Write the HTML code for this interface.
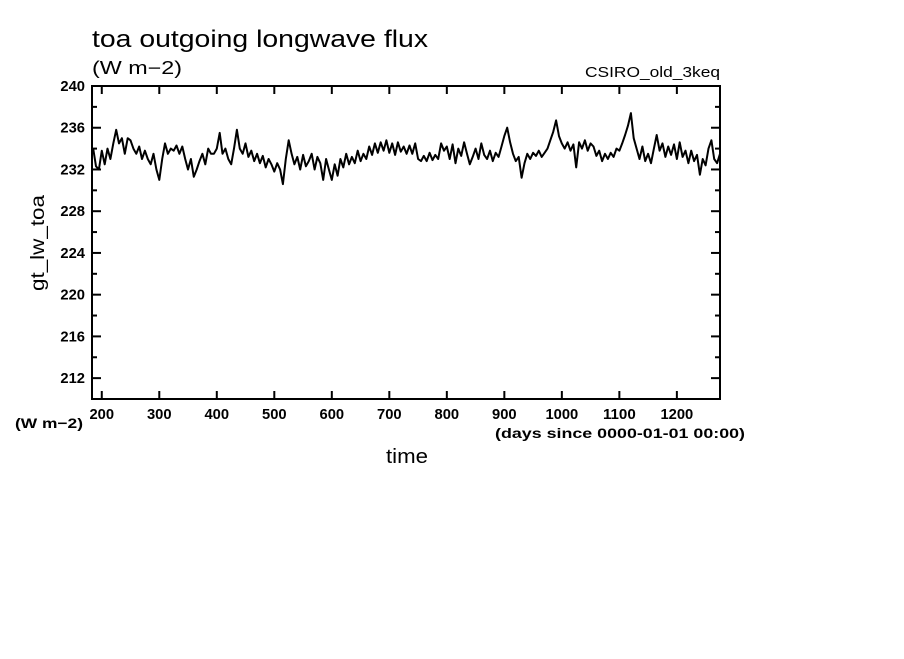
<!DOCTYPE html>
<html><head><meta charset="utf-8"><style>
body{margin:0;background:#fff;width:904px;height:654px;overflow:hidden}
text{font-family:"Liberation Sans",sans-serif;fill:#000}
</style></head><body>
<svg id="chart" width="904" height="654" xmlns="http://www.w3.org/2000/svg">
<text x="92" y="47" font-size="24" textLength="336" lengthAdjust="spacingAndGlyphs">toa outgoing longwave flux</text>
<text x="92" y="74" font-size="18" textLength="90" lengthAdjust="spacingAndGlyphs">(W m−2)</text>
<text x="585" y="77" font-size="15" textLength="135" lengthAdjust="spacingAndGlyphs">CSIRO_old_3keq</text>
<text transform="translate(44,243) rotate(-90)" font-size="19" text-anchor="middle" textLength="96" lengthAdjust="spacingAndGlyphs">gt_lw_toa</text>
<text x="15" y="428" font-size="14" font-weight="bold" textLength="68" lengthAdjust="spacingAndGlyphs">(W m−2)</text>
<text x="495" y="438" font-size="14" font-weight="bold" textLength="250" lengthAdjust="spacingAndGlyphs">(days since 0000-01-01 00:00)</text>
<text x="386" y="463" font-size="20" textLength="42" lengthAdjust="spacingAndGlyphs">time</text>
<g id="axes"></g>
<path id="series" fill="none" stroke="#000" stroke-width="2" stroke-linejoin="round"/>
<rect x="92" y="86" width="628" height="313" fill="none" stroke="#000" stroke-width="2"/>
</svg>
<script>
const startDay = 185;
const stepDays = 5;
const fluxValues = [
234.0,232.3,232.0,233.8,232.5,234.0,233.0,234.5,235.8,234.5,
235.0,233.5,235.0,234.8,234.0,233.5,234.2,233.0,233.8,233.0,
232.5,233.5,232.0,231.0,233.0,234.5,233.5,234.0,233.8,234.3,
233.5,234.2,233.0,232.0,233.0,231.3,232.0,232.8,233.5,232.5,
234.0,233.5,233.5,234.0,235.5,233.5,234.0,233.0,232.5,234.0,
235.8,234.0,233.5,234.5,233.2,233.8,232.8,233.5,232.6,233.3,
232.2,233.0,232.5,231.8,232.6,232.0,230.6,233.0,234.8,233.5,
232.5,233.2,232.0,233.4,232.3,232.8,233.5,232.0,233.2,232.6,
231.0,233.0,232.0,231.0,232.5,231.4,233.0,232.2,233.5,232.5,
233.2,232.6,233.8,232.8,233.5,233.0,234.2,233.4,234.5,233.6,
234.6,233.8,234.8,233.6,234.5,233.4,234.6,233.7,234.2,233.5,
234.3,233.5,234.5,233.0,232.8,233.3,232.8,233.6,232.9,233.4,
233.0,234.5,233.8,234.2,233.0,234.4,232.6,234.0,233.3,234.6,
233.5,232.5,233.2,234.0,233.0,234.5,233.4,233.0,233.8,232.8,
233.6,233.2,234.2,235.2,236.0,234.6,233.5,232.8,233.2,231.2,
232.6,233.5,233.0,233.6,233.3,233.8,233.2,233.6,234.0,234.8,
235.6,236.7,235.2,234.5,234.0,234.6,233.8,234.4,232.2,234.6,
234.0,234.8,233.8,234.5,234.2,233.3,233.8,232.8,233.5,233.0,
233.6,233.2,234.0,233.8,234.5,235.3,236.2,237.4,235.0,234.0,
233.0,234.2,232.8,233.5,232.6,234.0,235.3,233.8,234.5,233.2,
234.2,233.4,234.4,233.0,234.6,233.2,233.8,232.6,233.8,232.8,
233.4,231.5,233.0,232.4,234.0,234.8,233.0,232.6,233.5];
const xTicks = [200,300,400,500,600,700,800,900,1000,1100,1200];
const yTicks = [212,216,220,224,228,232,236,240];
const yMinor = [210,214,218,222,226,230,234,238];
const X0=92,X1=720,Y0=86,Y1=399,D0=183,D1=1275,V0=210,V1=240;
const xs = d => X0+(d-D0)/(D1-D0)*(X1-X0);
const ys = v => Y1-(v-V0)/(V1-V0)*(Y1-Y0);
const NS="http://www.w3.org/2000/svg";
const axes=document.getElementById('axes');
function line(x1,y1,x2,y2,name){const l=document.createElementNS(NS,'line');
l.setAttribute('x1',x1);l.setAttribute('y1',y1);l.setAttribute('x2',x2);l.setAttribute('y2',y2);
l.setAttribute('stroke','#000');l.setAttribute('stroke-width','2');


axes.appendChild(l);}
function txt(x,y,s,anchor,name){const t=document.createElementNS(NS,'text');
t.setAttribute('x',x);t.setAttribute('y',y);t.setAttribute('font-size','15');t.setAttribute('font-weight','bold');
t.setAttribute('text-anchor',anchor);t.textContent=s;
t.setAttribute('textLength', String(s.length*8.2));
t.setAttribute('lengthAdjust','spacingAndGlyphs');


axes.appendChild(t);}
xTicks.forEach(d=>{const x=xs(d);line(x,Y1,x,Y1-8,'x-tick');line(x,Y0,x,Y0+8,'x-tick');txt(x,419,String(d),'middle','x-tick-label');});
yTicks.forEach(v=>{const y=ys(v);line(X0,y,X0+9,y,'y-tick');line(X1,y,X1-9,y,'y-tick');txt(85,y+5,String(v),'end','y-tick-label');});
yMinor.forEach(v=>{const y=ys(v);line(X0,y,X0+5,y,'y-minor-tick');line(X1,y,X1-5,y,'y-minor-tick');});
let p='';fluxValues.forEach((v,i)=>{p+=(i?'L':'M')+xs(startDay+i*stepDays).toFixed(1)+' '+ys(v).toFixed(1);});
document.getElementById('series').setAttribute('d',p);
</script>
</body></html>
